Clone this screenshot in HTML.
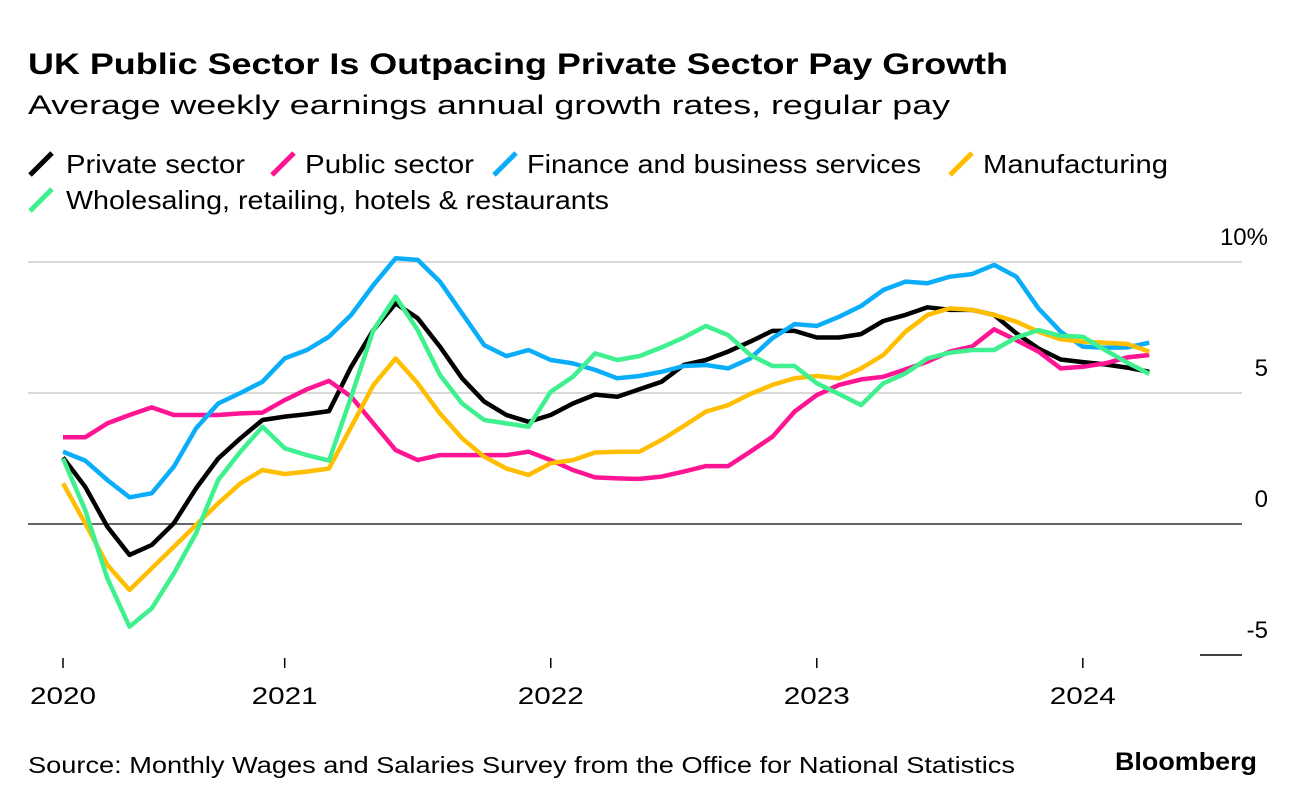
<!DOCTYPE html>
<html><head><meta charset="utf-8">
<style>
body{margin:0;background:#fff;width:1296px;height:806px;overflow:hidden;font-family:"Liberation Sans",Arial,sans-serif;}
svg{position:absolute;left:0;top:0}
</style></head>
<body>
<svg id="chart" width="1296" height="806" viewBox="0 0 1296 806" xmlns="http://www.w3.org/2000/svg" font-family="Liberation Sans, Arial, sans-serif">
<text x="28" y="74" font-size="30" font-weight="bold" fill="#000" textLength="980" lengthAdjust="spacingAndGlyphs">UK Public Sector Is Outpacing Private Sector Pay Growth</text>
<text x="28" y="114" font-size="27" fill="#000" textLength="922" lengthAdjust="spacingAndGlyphs">Average weekly earnings annual growth rates, regular pay</text>
<g id="legend" font-size="26"></g>
<g id="grid"></g>
<g id="series"></g>
<g id="xaxis" font-size="24"></g>
<text x="28" y="773" font-size="23" fill="#000" textLength="987" lengthAdjust="spacingAndGlyphs">Source: Monthly Wages and Salaries Survey from the Office for National Statistics</text>
<text x="1115" y="770" font-size="25" font-weight="bold" fill="#000" textLength="142" lengthAdjust="spacingAndGlyphs">Bloomberg</text>
</svg>
<script>
const yTicks = [10, 5, 0, -5];
const yTickLabels = ["10%", "5", "0", "-5"];
const xTickIndex = [0, 10, 22, 34, 46];
const xTickLabels = ["2020", "2021", "2022", "2023", "2024"];
const seriesNames = ["Private sector","Public sector","Finance and business services","Manufacturing","Wholesaling, retailing, hotels & restaurants"];
const seriesColors = ["#000000","#ff1493","#0aaef8","#ffbf00","#3ff08e"];
const privateSector = [2.54,1.42,-0.1,-1.18,-0.8,0.03,1.36,2.5,3.27,3.97,4.1,4.19,4.31,6.0,7.4,8.42,7.85,6.77,5.56,4.67,4.16,3.9,4.16,4.6,4.94,4.86,5.14,5.43,6.07,6.26,6.58,6.96,7.37,7.37,7.12,7.12,7.25,7.75,7.98,8.27,8.17,8.17,7.98,7.28,6.7,6.28,6.18,6.09,5.97,5.81];
const publicSector = [3.31,3.31,3.84,4.16,4.45,4.16,4.16,4.16,4.22,4.25,4.73,5.14,5.46,4.86,3.84,2.82,2.44,2.63,2.63,2.63,2.63,2.76,2.44,2.06,1.78,1.74,1.72,1.81,2.0,2.21,2.21,2.76,3.33,4.29,4.92,5.31,5.52,5.62,5.9,6.2,6.58,6.77,7.43,7.02,6.58,5.94,6.0,6.13,6.36,6.45];
const financeBusiness = [2.76,2.42,1.68,1.02,1.17,2.19,3.65,4.6,5.0,5.43,6.32,6.64,7.15,7.98,9.12,10.14,10.08,9.25,8.04,6.83,6.41,6.64,6.26,6.13,5.88,5.56,5.65,5.81,6.03,6.07,5.94,6.32,7.09,7.63,7.56,7.91,8.32,8.93,9.25,9.19,9.44,9.54,9.89,9.44,8.23,7.34,6.77,6.73,6.74,6.92];
const manufacturing = [1.55,0.03,-1.56,-2.52,-1.69,-0.87,-0.04,0.79,1.55,2.06,1.91,2.0,2.12,3.71,5.3,6.32,5.37,4.22,3.27,2.57,2.12,1.87,2.32,2.44,2.73,2.76,2.76,3.21,3.74,4.29,4.54,4.96,5.31,5.56,5.65,5.56,5.94,6.45,7.34,7.98,8.23,8.17,7.98,7.72,7.34,7.05,6.96,6.92,6.87,6.58];
const wholesaleRetail = [2.5,0.53,-2.07,-3.92,-3.22,-1.88,-0.36,1.68,2.76,3.71,2.89,2.63,2.42,4.86,7.4,8.68,7.4,5.69,4.6,3.97,3.84,3.71,5.05,5.62,6.51,6.26,6.41,6.74,7.12,7.56,7.21,6.45,6.03,6.03,5.37,4.96,4.54,5.37,5.75,6.32,6.54,6.64,6.64,7.12,7.4,7.18,7.15,6.64,6.16,5.73];
const allSeries = [privateSector, publicSector, financeBusiness, manufacturing, wholesaleRetail];
const NS = "http://www.w3.org/2000/svg";
const x0 = 63, dx = 22.17;
function xScale(i){ return x0 + i*dx; }
function yScale(v){ return 524 - v*26.2; }
function mk(tag, attrs, parent){ const e=document.createElementNS(NS,tag); for(const k in attrs) e.setAttribute(k,attrs[k]); parent.appendChild(e); return e; }

const grid = document.getElementById('grid');
yTicks.forEach((t,k)=>{
  const y=yScale(t);
  if(t===-5){
    const l=mk('line',{x1:1200,x2:1242,y1:y,y2:y,stroke:'#000','stroke-width':1.5},grid);
    
    
  } else {
    const l=mk('line',{x1:28,x2:1242,y1:y,y2:y,stroke:t===0?'#333':'#d9d9d9','stroke-width':t===0?1.5:2},grid);
    
    
  }
  const tx=mk('text',{x:1268,y:y-17,'text-anchor':'end','font-size':24,fill:'#000'},grid);
  tx.textContent=yTickLabels[k];
  
  
});

const xa = document.getElementById('xaxis');
xTickIndex.forEach((idx,k)=>{
  const x=xScale(idx);
  const l=mk('line',{x1:x,x2:x,y1:658,y2:668,stroke:'#000','stroke-width':1.5},xa);
  
  
  const tx=mk('text',{x:x,y:704,'text-anchor':'middle',fill:'#000',textLength:66,lengthAdjust:'spacingAndGlyphs'},xa);
  tx.textContent=xTickLabels[k];
  
  
});

const sg = document.getElementById('series');
allSeries.forEach((vals,s)=>{
  const d = vals.map((v,i)=>(i?'L':'M')+xScale(i).toFixed(1)+' '+yScale(v).toFixed(1)).join(' ');
  const p=mk('path',{d:d,fill:'none',stroke:seriesColors[s],'stroke-width':4.5,'stroke-linejoin':'round','stroke-linecap':'butt'},sg);
  
  
});

const lg = document.getElementById('legend');
const legendPos = [[30,164],[272,164],[494,164],[950,164],[30,200]];
const legendTextLen = [179,169,394,185,543];
seriesNames.forEach((n,s)=>{
  const [x,y]=legendPos[s];
  const g=mk('g',{},lg);
  
  
  mk('line',{x1:x,y1:y+11,x2:x+22,y2:y-11,stroke:seriesColors[s],'stroke-width':5},g);
  const tx = s===0||s===4 ? 66 : x+33;
  const t=mk('text',{x:tx,y:y+9,fill:'#000',textLength:legendTextLen[s],lengthAdjust:'spacingAndGlyphs'},g);
  t.textContent=n;
});
</script>
</body></html>
